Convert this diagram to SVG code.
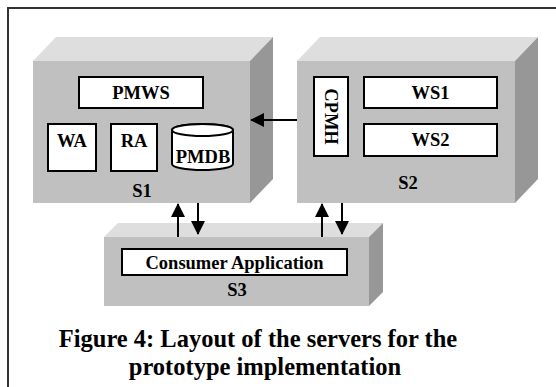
<svg xmlns="http://www.w3.org/2000/svg" width="556" height="387" viewBox="0 0 556 387">
  <defs>
    <style>
      .front { fill: #c0c0c0; }
      .top { fill: #dedede; }
      .side { fill: #979797; }
      .box { fill: #ffffff; stroke: #000000; stroke-width: 2; }
      .lbl { font-family: "Liberation Serif", "Times New Roman", serif; font-weight: bold; font-size: 18.5px; fill: #000000; text-anchor: middle; }
      .cap { font-family: "Liberation Serif", "Times New Roman", serif; font-weight: bold; font-size: 24.5px; fill: #000000; text-anchor: middle; }
      .wire { stroke: #000000; stroke-width: 2; fill: none; }
    </style>
    <marker id="head" viewBox="0 0 14 14" refX="13" refY="7" markerWidth="14" markerHeight="14" markerUnits="userSpaceOnUse" orient="auto">
      <path d="M0,0 L14,7 L0,14 Z" fill="#000000"/>
    </marker>
  </defs>

  <rect width="556" height="387" fill="#ffffff"/>

  <!-- frame -->
  <g id="frame">
    <path d="M8,387 L8,8 L556,8" fill="none" stroke="#333333" stroke-width="2"/>
  </g>

  <!-- server S1 -->
  <g id="s1">
    <polygon class="top" points="33,61 56,37 273,37 250,61"/>
    <polygon class="side" points="250,61 273,37 273,179 250,203"/>
    <rect class="front" x="33" y="61" width="217" height="142"/>
    <g id="pmws">
      <rect class="box" x="79" y="77" width="124" height="31"/>
      <text class="lbl" x="141" y="99">PMWS</text>
    </g>
    <g id="wa">
      <rect class="box" x="48" y="124" width="48" height="47"/>
      <text class="lbl" x="72" y="147">WA</text>
    </g>
    <g id="ra">
      <rect class="box" x="111" y="124" width="46" height="47"/>
      <text class="lbl" x="134" y="147">RA</text>
    </g>
    <g id="pmdb">
      <path class="box" d="M172,130 L172,164 A30.5,6 0 0 0 233,164 L233,130 A30.5,6 0 0 0 172,130 Z"/>
      <ellipse class="box" cx="202.5" cy="130" rx="30.5" ry="6"/>
      <text class="lbl" x="203" y="163">PMDB</text>
    </g>
    <text class="lbl" x="142" y="197">S1</text>
  </g>

  <!-- server S2 -->
  <g id="s2">
    <polygon class="top" points="297,61 320,37 538,37 515,61"/>
    <polygon class="side" points="515,61 538,37 538,179 515,203"/>
    <rect class="front" x="297" y="61" width="218" height="142"/>
    <g id="cpmh">
      <rect class="box" x="314" y="77" width="34" height="79"/>
      <text class="lbl" transform="translate(331,116.5) rotate(90)" y="6.5">CPMH</text>
    </g>
    <g id="ws1">
      <rect class="box" x="364" y="77" width="133" height="31"/>
      <text class="lbl" x="430.5" y="99">WS1</text>
    </g>
    <g id="ws2">
      <rect class="box" x="364" y="124" width="133" height="32"/>
      <text class="lbl" x="430.5" y="146">WS2</text>
    </g>
    <text class="lbl" x="408" y="189">S2</text>
  </g>

  <!-- server S3 -->
  <g id="s3">
    <polygon class="top" points="104,237 118,223 383,223 369,237"/>
    <polygon class="side" points="369,237 383,223 383,292 369,306"/>
    <rect class="front" x="104" y="237" width="265" height="69"/>
    <g id="consumer">
      <rect class="box" x="122" y="249" width="225" height="26"/>
      <text class="lbl" x="234.5" y="269">Consumer Application</text>
    </g>
    <text class="lbl" x="237" y="296">S3</text>
  </g>

  <!-- connectors -->
  <g id="connectors">
    <line class="wire" x1="297" y1="120" x2="251" y2="120" marker-end="url(#head)"/>
    <line class="wire" x1="178" y1="237" x2="178" y2="204" marker-end="url(#head)"/>
    <line class="wire" x1="198" y1="203" x2="198" y2="234" marker-end="url(#head)"/>
    <line class="wire" x1="322" y1="237" x2="322" y2="204" marker-end="url(#head)"/>
    <line class="wire" x1="342" y1="203" x2="342" y2="234" marker-end="url(#head)"/>
  </g>

  <!-- caption -->
  <g id="caption">
    <text class="cap" x="258" y="347">Figure 4: Layout of the servers for the</text>
    <text class="cap" x="265" y="375">prototype implementation</text>
  </g>
</svg>
